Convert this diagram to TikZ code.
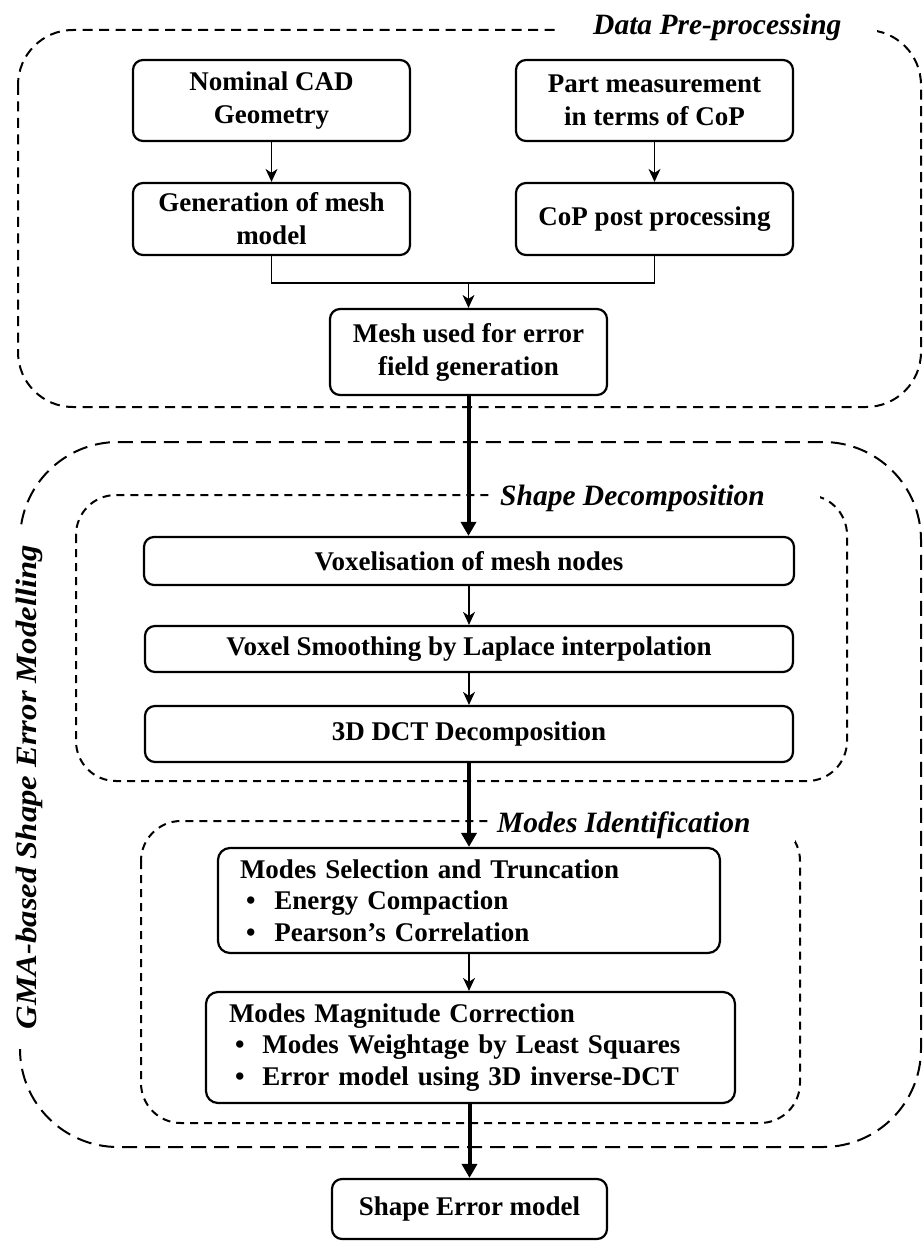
\documentclass[tikz,border=0pt]{standalone}
\usepackage{fontspec}
\setmainfont{Liberation Serif}
\usetikzlibrary{arrows.meta}
\begin{document}
\begin{tikzpicture}[x=1pt,y=-1pt,
  box/.style={draw, line width=2.2pt, rounded corners=10pt, font=\fontsize{27}{33}\selectfont\bfseries, align=center, inner sep=0pt},
  listbox/.style={draw, line width=2.2pt, rounded corners=12pt, font=\fontsize{27}{31.5}\selectfont\bfseries, align=left, inner ysep=0pt},
  grpa/.style={draw, line width=2pt, dash pattern=on 10pt off 6.5pt, rounded corners=55pt},
  grpb/.style={draw, line width=2pt, dash pattern=on 15pt off 8pt, rounded corners=98pt},
  grpc/.style={draw, line width=2pt, dash pattern=on 8pt off 6pt, rounded corners=40pt},
  lab/.style={font=\fontsize{29.5}{34}\selectfont\bfseries\itshape, fill=white, inner xsep=0pt, inner ysep=4pt},
  thinarrow/.style={line width=1.4pt, -{Stealth[length=13pt,width=12pt,inset=4pt]}},
  thickarrow/.style={line width=4pt, -{Triangle[length=14pt,width=15pt]}},
]
\useasboundingbox (0,0) rectangle (923,1241);

% group frames
\draw[grpa] (18,30) rectangle (921,407);
\draw[grpb] (20,442) rectangle (921,1147);
\draw[grpc] (76,495) rectangle (847,781);
\draw[grpc] (141,821) rectangle (800,1123);

% group labels
\node[lab, anchor=base west] (l1) at (557,35) {\hspace*{36pt}Data Pre-processing\hspace*{36pt}};
\node[lab, anchor=base west] (l3) at (490,505) {\hspace*{10pt}Shape Decomposition\hspace*{55pt}};
\node[lab, anchor=base west] (l4) at (490,832) {\hspace*{7pt}Modes Identification\hspace*{45pt}};
\node[lab, rotate=90, inner xsep=20pt] (l2) at (29,787) {\scalebox{1.108}[1]{GMA-based Shape Error Modelling}};

% boxes
\node[box, minimum width=277pt, minimum height=81pt] (nom) at (271.5,100.5) {Nominal CAD\\Geometry};
\node[box, minimum width=277pt, minimum height=72pt] (gen) at (271.5,219) {Generation of mesh\\model};
\node[box, minimum width=277pt, minimum height=81pt] (part) at (654.5,100.5) {Part measurement\\in terms of CoP};
\node[box, minimum width=277pt, minimum height=72pt] (cop) at (654.5,219) {CoP post processing};
\node[box, minimum width=277pt, minimum height=86pt] (mesh) at (468.5,352) {Mesh used for error\\field generation};

\node[box, minimum width=650pt, minimum height=48pt] (vox) at (469,561) {Voxelisation of mesh nodes};
\node[box, minimum width=648pt, minimum height=46pt] (smooth) at (469,649) {Voxel Smoothing by Laplace interpolation};
\node[box, minimum width=648pt, minimum height=56pt] (dct) at (469,734) {3D DCT Decomposition};

\node[listbox, inner xsep=22pt, text width=458pt, minimum height=105pt] (sel) at (469,900.5)
  {Modes Selection and Truncation\\
   \hspace*{6pt}•\hspace{19pt}Energy Compaction\\
   \hspace*{6pt}•\hspace{19pt}Pearson’s Correlation};
\node[listbox, inner xsep=23pt, text width=483pt, minimum height=111pt] (mag) at (470.5,1047.5)
  {Modes Magnitude Correction\\
   \hspace*{6pt}•\hspace{18pt}Modes Weightage by Least Squares\\
   \hspace*{6pt}•\hspace{18pt}Error model using 3D inverse-DCT};

\node[box, minimum width=275pt, minimum height=60pt] (shape) at (469.5,1209) {Shape Error model};

% connectors
\draw[thinarrow] (nom) -- (gen);
\draw[thinarrow] (part) -- (cop);
\draw[line width=1.4pt] (gen.south) -- ++(0,27) -| (cop.south);
\coordinate (j) at (468.5,282);
\draw[thinarrow] (j) -- (mesh.north);
\draw[thickarrow] (mesh.south) -- (mesh.south |- vox.north);
\draw[thinarrow] (vox) -- (smooth);
\draw[thinarrow] (smooth) -- (dct);
\draw[thickarrow] (dct.south) -- (dct.south |- sel.north);
\draw[thinarrow] (sel.south) -- (sel.south |- mag.north);
\draw[thickarrow] (mag.south -| shape.north) -- (shape.north);
\end{tikzpicture}
\end{document}
